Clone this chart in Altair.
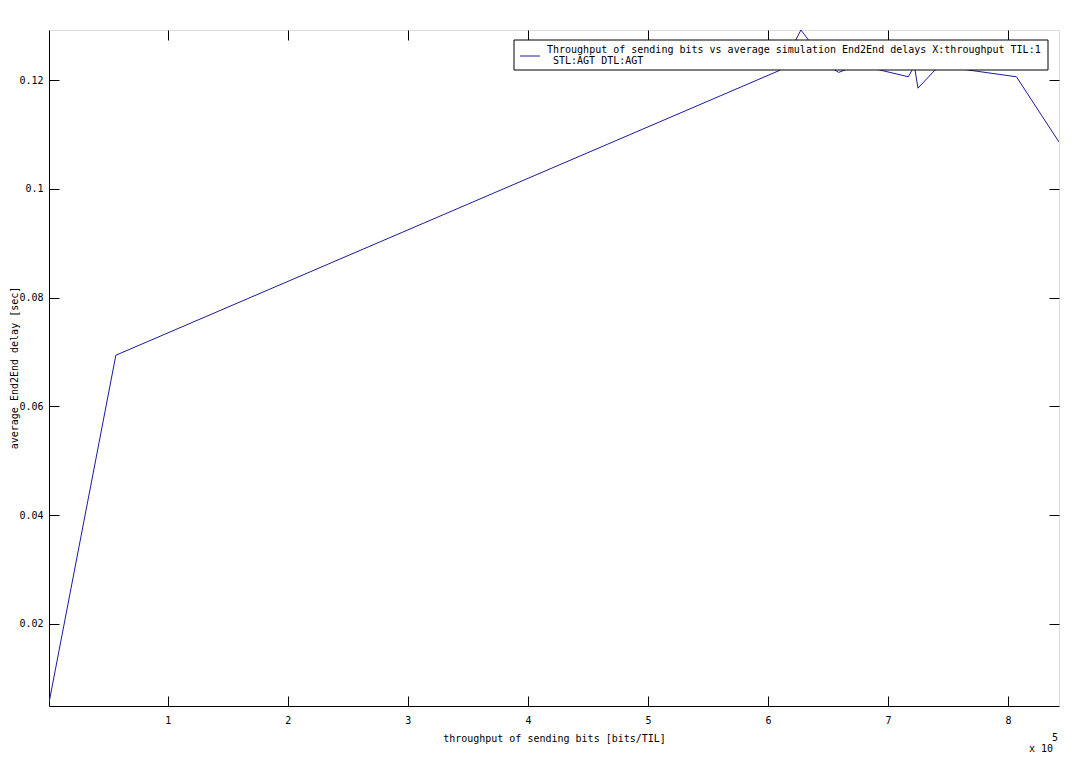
import altair as alt
import pandas as pd

# throughput of sending bits, in units of 10^5 bits/TIL
throughput = [0.01, 0.567, 6.10, 6.275, 6.50, 6.59, 6.75, 7.17, 7.22, 7.25, 7.39, 7.50, 7.65, 8.07, 8.425]
# average End2End delay [sec]
delay = [0.0055, 0.0694, 0.1218, 0.1292, 0.1226, 0.1214, 0.1228, 0.1206, 0.1226, 0.1185, 0.1218, 0.1228, 0.1219, 0.1206, 0.1086]

x_ticks = [1, 2, 3, 4, 5, 6, 7, 8]
y_ticks = [0.02, 0.04, 0.06, 0.08, 0.10, 0.12]

legend_line1 = "Throughput of sending bits vs average simulation End2End delays X:throughput TIL:1"
legend_line2 = "STL:AGT DTL:AGT"
y_title = "average End2End delay [sec]"

df = pd.DataFrame({"x": throughput, "y": delay})

FONT = "DejaVu Sans Mono"
LINE = "#1a1aa0"
W, H = 1010, 676

xs = alt.Scale(domain=[0.01, 8.425], nice=False, zero=False)
ys = alt.Scale(domain=[0.0049, 0.1292], nice=False, zero=False)

main = alt.Chart(df).mark_line(color=LINE, strokeWidth=1, clip=True).encode(
    x=alt.X("x:Q", scale=xs, axis=alt.Axis(
        orient="bottom", values=x_ticks, format="d", ticks=False, grid=False,
        domain=True, domainColor="black", labelFont=FONT, labelFontSize=10, labelColor="black",
        labelPadding=9, title="throughput of sending bits [bits/TIL]", titleFont=FONT,
        titleFontSize=10, titleFontWeight="normal", titleColor="black", titlePadding=8)),
    y=alt.Y("y:Q", scale=ys, axis=alt.Axis(
        orient="left", values=y_ticks, format=".2~f", ticks=False, grid=False,
        domain=True, domainColor="black", labelFont=FONT, labelFontSize=10, labelColor="black",
        labelPadding=6, title=None)),
)

def tick_layer(xorient, yorient):
    return alt.Chart(df).mark_line(opacity=0).encode(
        x=alt.X("x:Q", scale=xs, axis=alt.Axis(
            orient=xorient, offset=-10, values=x_ticks, labels=False, domain=False,
            ticks=True, tickSize=10, tickColor="black", grid=False, title=None)),
        y=alt.Y("y:Q", scale=ys, axis=alt.Axis(
            orient=yorient, offset=-10, values=y_ticks, labels=False, domain=False,
            ticks=True, tickSize=10, tickColor="black", grid=False, title=None)),
    )

ticks_bl = tick_layer("bottom", "left")
ticks_tr = tick_layer("top", "right")

one = pd.DataFrame({"a": [legend_line1], "b": [legend_line2], "yt": [y_title]})
legend_box = alt.Chart(one).mark_rect(fill="white", stroke="black", strokeWidth=1).encode(
    x=alt.value(465), x2=alt.value(999), y=alt.value(10), y2=alt.value(40))
legend_line = alt.Chart(one).mark_rule(color=LINE, strokeWidth=1).encode(
    x=alt.value(471), x2=alt.value(491), y=alt.value(26))
legend_label1 = alt.Chart(one).mark_text(
    font=FONT, fontSize=10, color="black", align="left", baseline="middle").encode(
    text="a:N", x=alt.value(498), y=alt.value(20))
legend_label2 = alt.Chart(one).mark_text(
    font=FONT, fontSize=10, color="black", align="left", baseline="middle").encode(
    text="b:N", x=alt.value(504), y=alt.value(31))
y_title_text = alt.Chart(one).mark_text(
    font=FONT, fontSize=10, color="black", align="center", baseline="middle", angle=270).encode(
    text="yt:N", x=alt.value(-34), y=alt.value(H / 2))

exp_df = pd.DataFrame({"t": ["x 10"]})
exp_text = alt.Chart(exp_df).mark_text(font=FONT, fontSize=10, color="black", align="center", baseline="middle").encode(
    text="t:N", x=alt.value(992), y=alt.value(719))
exp_df2 = pd.DataFrame({"t": ["5"]})
exp_text2 = alt.Chart(exp_df2).mark_text(font=FONT, fontSize=10, color="black", align="center", baseline="middle").encode(
    text="t:N", x=alt.value(1006), y=alt.value(708))

chart = alt.layer(main, ticks_bl, ticks_tr, legend_box, legend_line, legend_label1, legend_label2,
                  y_title_text, exp_text, exp_text2).resolve_axis(
    x="independent", y="independent"
).properties(
    width=W, height=H, autosize="none",
    padding={"left": 41, "top": 22, "right": 22, "bottom": 48},
).configure_view(stroke="black", strokeWidth=1).configure(background="white")

chart.save("out.html", embed_options={"renderer": "svg", "actions": False})
